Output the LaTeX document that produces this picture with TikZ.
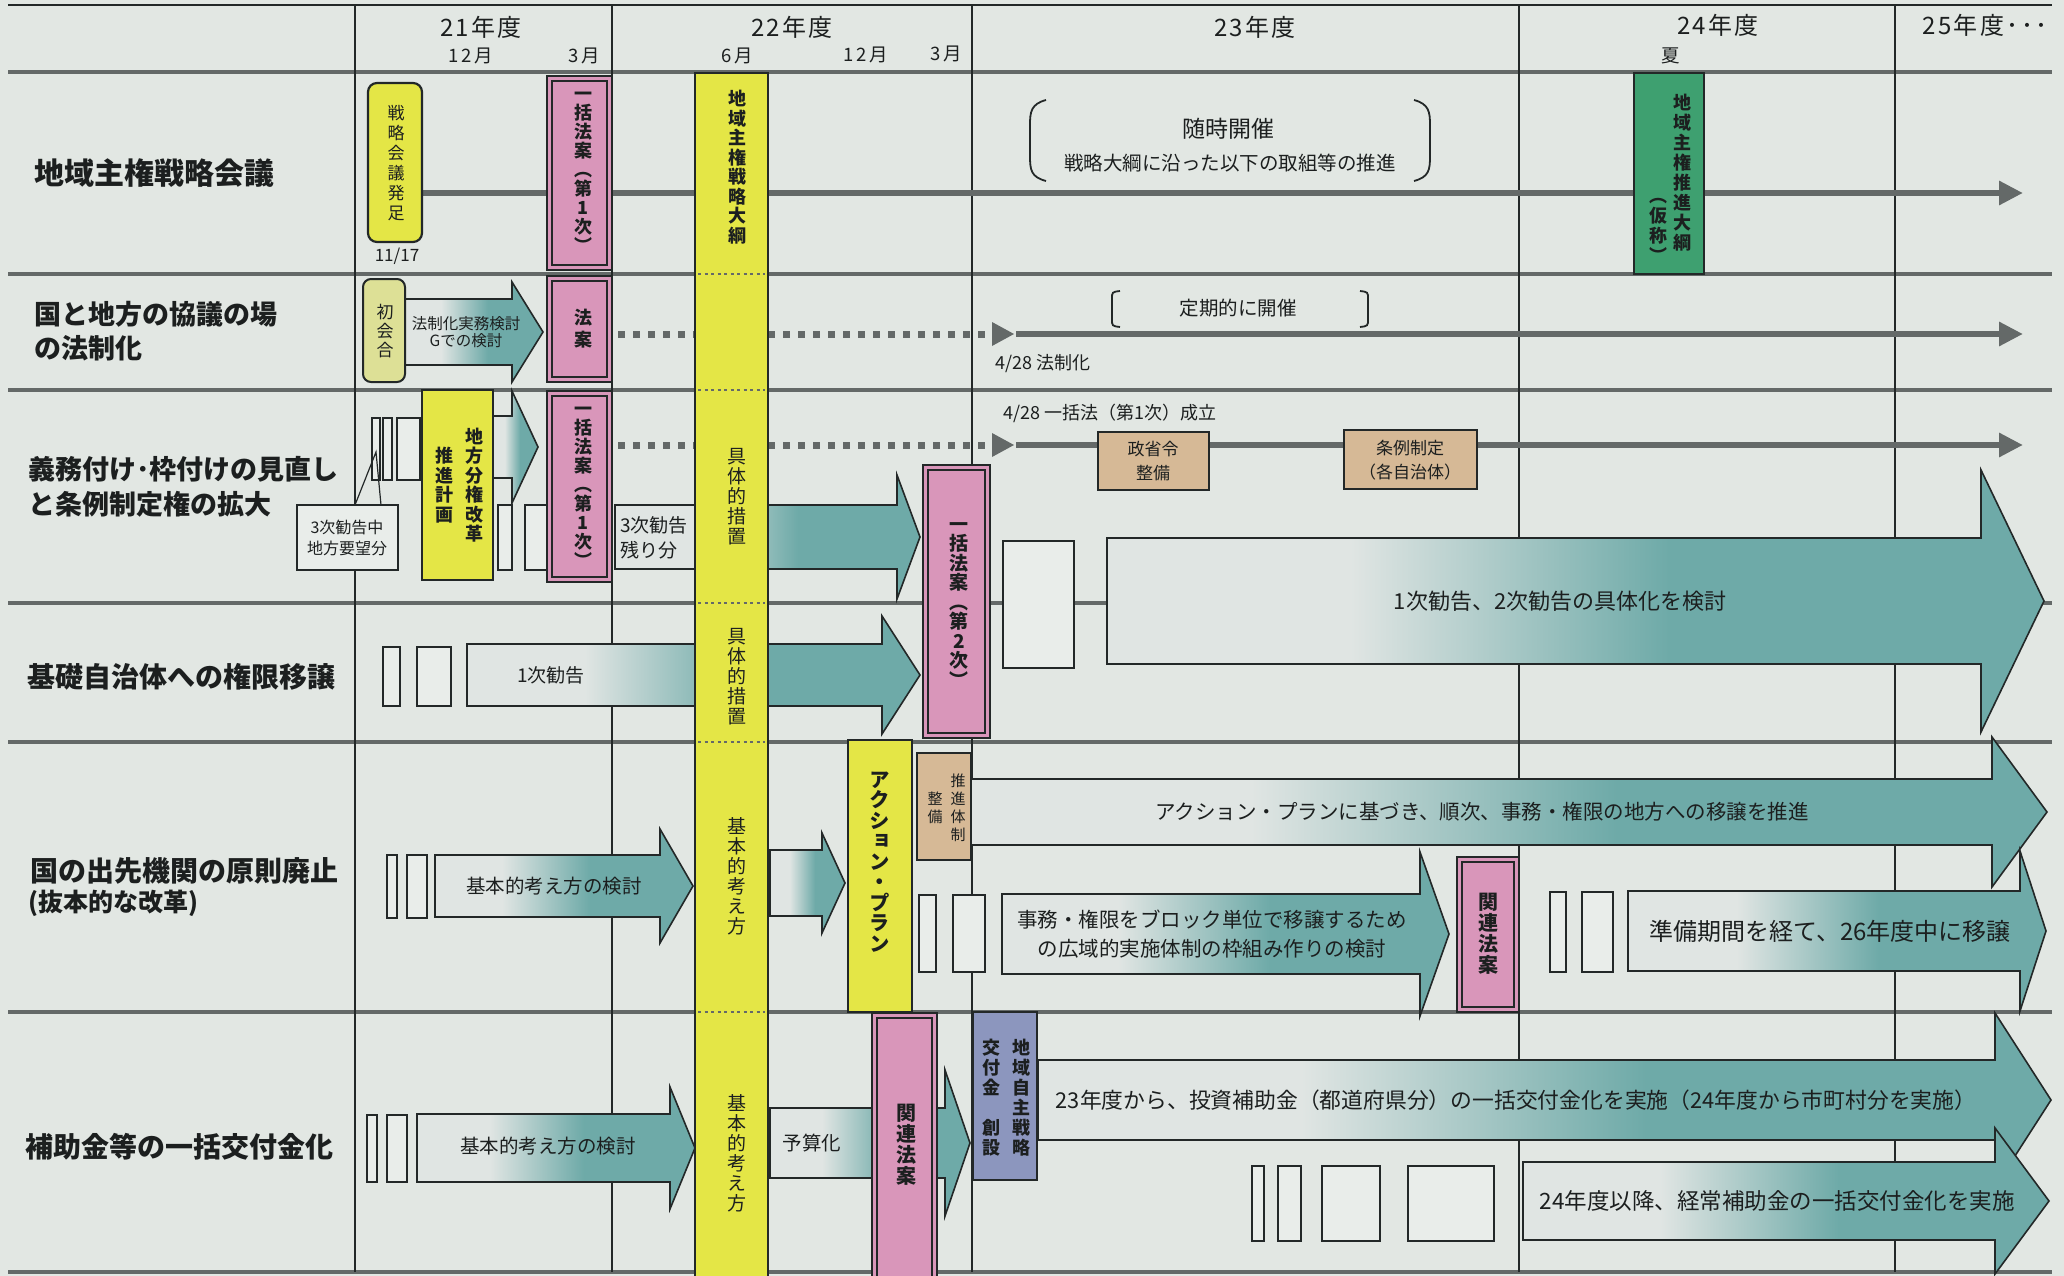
\documentclass[tikz,border=0pt]{standalone}
\usepackage{fontspec}
\setmainfont{Noto Sans CJK JP}
\newfontfamily\tatefont{Noto Sans CJK JP}[RawFeature=+vert]
\usetikzlibrary{arrows.meta}
\usetikzlibrary{calc}

\definecolor{paper}{RGB}{226,231,227}
\definecolor{boxpale}{RGB}{233,237,234}
\definecolor{inkline}{RGB}{35,40,40}
\definecolor{inktext}{RGB}{28,31,31}
\definecolor{rowgray}{RGB}{100,105,104}
\definecolor{barYellow}{RGB}{228,230,70}
\definecolor{paleYellow}{RGB}{221,224,150}
\definecolor{lawPink}{RGB}{217,150,186}
\definecolor{planGreen}{RGB}{62,160,112}
\definecolor{tanBox}{RGB}{214,185,150}
\definecolor{grantBlue}{RGB}{140,150,190}
\definecolor{fadePale}{RGB}{224,229,227}
\definecolor{fadeTeal}{RGB}{110,170,168}

\pgfdeclareverticalshading{tealfade}{100bp}{color(0bp)=(fadeTeal); color(45bp)=(fadeTeal); color(62bp)=(fadePale); color(100bp)=(fadePale)}

% block arrow: x start, x head base, x tip, y mid, half shaft, half head
\newcommand{\blockarrow}[6]{%
  \draw[arrowbody] (#1,{#4-#5}) -- (#2,{#4-#5}) -- (#2,{#4-#6}) -- (#3,#4)
    -- (#2,{#4+#6}) -- (#2,{#4+#5}) -- (#1,{#4+#5}) -- cycle;}
% double framed pink box
\newcommand{\lawbox}[4]{%
  \draw[draw=inkline,line width=1.4pt,fill=lawPink] (#1,#2) rectangle (#3,#4);
  \draw[draw=inkline,line width=2pt] ({#1+5},{#2+5}) rectangle ({#3-5},{#4-5});}

\tikzset{
  rowrule/.style={draw=rowgray,line width=4pt},
  colrule/.style={draw=inkline,line width=1.8pt},
  timeline/.style={draw=rowgray,line width=6pt,-{Triangle[length=24pt,width=23pt]}},
  dotline/.style={draw=rowgray,line width=7pt,dash pattern=on 7pt off 8pt},
  bardot/.style={draw=rowgray,line width=2.5pt,dash pattern=on 3pt off 3.5pt},
  arrowbody/.style={draw=inkline,line width=1.6pt,shade,shading=tealfade,shading angle=90},
  tickbox/.style={draw=inkline,line width=1.6pt,fill=boxpale},
  barbox/.style={draw=inkline,line width=2.2pt,fill=barYellow},
  txt/.style 2 args={font={\fontsize{#1}{#2}\selectfont\lineskiplimit=-50pt},inner sep=0pt,align=center},
  tate/.style 2 args={font={\tatefont\fontsize{#1}{#2}\selectfont\lineskiplimit=-50pt},inner sep=0pt,align=center},
  tateb/.style 2 args={font={\tatefont\bfseries\fontsize{#1}{#2}\selectfont\lineskiplimit=-50pt},inner sep=0pt,align=center},
  title/.style={font={\bfseries\fontsize{28}{34}\selectfont\lineskiplimit=-50pt},inner sep=0pt,align=left,anchor=west},
  head/.style={font={\fontsize{24}{24}\selectfont\addfontfeatures{LetterSpace=10}},inner sep=0pt},
  month/.style={font={\fontsize{18.5}{18.5}\selectfont\addfontfeatures{LetterSpace=14}},inner sep=0pt}
}

\begin{document}
\begin{tikzpicture}[x=1pt,y=-1pt,every node/.style={text=inktext}]
	\useasboundingbox (0,0) rectangle (2064,1276);
	\clip (0,0) rectangle (2064,1276);
	\fill[paper] (0,0) rectangle (2064,1276);
	%grid of rows and years
	\draw[inkline,line width=1.8pt] (8,5) -- (2052,5);
	\foreach \y in {72,274,390,603,742,1012,1272}
		\draw[rowrule] (8,\y) -- (2052,\y);
	\foreach \x in {355,612,972,1519,1895}
		\draw[colrule] (\x,5) -- (\x,1272);
	%header
	\node[head] (y21) at (481,27) {21年度};
	\node[month] (m12a) at (471,56) {12月};
	\node[month] (m3a) at (584,56) {3月};
	\node[head] (y22) at (792,27) {22年度};
	\node[month] (m6) at (737,56) {6月};
	\node[month] (m12b) at (866,55) {12月};
	\node[month] (m3b) at (946,54) {3月};
	\node[head] (y23) at (1255,27) {23年度};
	\node[head] (y24) at (1718,25) {24年度};
	\node[month] (natsu) at (1671,56) {夏};
	\node[head] (y25) at (1985,25) {25年度･･･};
	%row titles
	\node[title,font={\bfseries\fontsize{30}{34}\selectfont}] (t1) at (34,173) {地域主権戦略会議};
	\node[title,font={\bfseries\fontsize{27}{34}\selectfont\lineskiplimit=-50pt}] (t2) at (34,331) {国と地方の協議の場\\の法制化};
	\node[title,font={\bfseries\fontsize{27}{35}\selectfont\lineskiplimit=-50pt}] (t3) at (28,487) {義務付け･枠付けの見直し\\と条例制定権の拡大};
	\node[title] (t4) at (27,677) {基礎自治体への権限移譲};
	\node[title] (t5) at (30,871) {国の出先機関の原則廃止};
	\node[title,font={\bfseries\fontsize{25}{25}\selectfont}] (t5b) at (28,903) {(抜本的な改革)};
	\node[title] (t6) at (25,1147) {補助金等の一括交付金化};
	%time lines
	\draw[timeline] (422,193) -- (2023,193);
	\draw[dotline] (618,334) -- (990,334);
	\fill[rowgray] (992,322) -- (1014,334) -- (992,346) -- cycle;
	\draw[timeline] (1016,334) -- (2023,334);
	\draw[dotline] (618,445) -- (990,445);
	\fill[rowgray] (992,433) -- (1014,445) -- (992,457) -- cycle;
	\draw[timeline] (1016,445) -- (2023,445);
	%block arrows
	\blockarrow{405}{512}{543}{332}{33}{50}
	\blockarrow{493}{512}{538}{447}{31}{56}
	\blockarrow{615}{897}{920}{537}{32}{62}
	\blockarrow{1107}{1981}{2044}{601}{63}{131}
	\blockarrow{467}{882}{920}{675}{31}{59}
	\blockarrow{435}{660}{693}{886}{31}{57}
	\blockarrow{770}{822}{845}{883}{33}{50}
	\blockarrow{971}{1992}{2047}{812}{33}{75}
	\blockarrow{1002}{1420}{1449}{934}{40}{82}
	\blockarrow{1628}{2020}{2046}{931}{40}{80}
	\blockarrow{417}{670}{695}{1148}{34}{61}
	\blockarrow{770}{945}{970}{1143}{35}{73}
	\blockarrow{1038}{1995}{2051}{1100}{40}{87}
	\blockarrow{1523}{1995}{2049}{1201}{39}{73}
	%small empty boxes
	\foreach \a/\b/\c/\d in {372/418/380/480, 383/418/392/480, 397/418/420/480,
		498/505/512/570, 525/505/547/570, 1003/541/1074/668,
		383/647/400/706, 417/647/451/706, 387/855/397/918, 407/855/427/918,
		919/895/936/972, 953/895/985/972, 1550/892/1566/972, 1582/892/1613/972,
		367/1115/377/1182, 387/1115/407/1182, 1252/1166/1264/1241,
		1278/1166/1301/1241, 1322/1166/1380/1241, 1408/1166/1494/1241}
		\draw[tickbox] (\a,\b) rectangle (\c,\d);
	%callout
	\draw[tickbox] (297,505) rectangle (398,570);
	\draw[inkline,line width=1.2pt] (355,505) -- (376,452) -- (381,505);
	\node[txt={16}{21}] (youbou) at (347,538) {3次勧告中\\地方要望分};
	%boxes
	\draw[barbox,rounded corners=9pt] (368,83) rectangle (422,242);
	\draw[draw=inkline,line width=2pt,fill=paleYellow,rounded corners=8pt] (363,279) rectangle (405,382);
	\draw[barbox] (422,390) rectangle (493,580);
	\lawbox{547}{76}{612}{270}
	\lawbox{547}{276}{612}{382}
	\lawbox{547}{391}{612}{582}
	\lawbox{923}{465}{990}{738}
	\lawbox{1457}{857}{1519}{1012}
	\lawbox{872}{1013}{937}{1290}
	\draw[barbox] (695,73) rectangle (768,1290);
	\foreach \y in {274,390,603,742,1012}
		\draw[bardot] (698,\y) -- (765,\y);
	\draw[barbox] (848,740) rectangle (912,1012);
	\draw[draw=inkline,line width=2pt,fill=tanBox] (917,753) rectangle (971,860);
	\draw[draw=inkline,line width=2pt,fill=tanBox] (1098,432) rectangle (1209,490);
	\draw[draw=inkline,line width=2pt,fill=tanBox] (1344,430) rectangle (1477,489);
	\draw[draw=inkline,line width=2pt,fill=planGreen] (1634,73) rectangle (1704,274);
	\draw[draw=inkline,line width=2pt,fill=grantBlue] (973,1012) rectangle (1037,1180);
	%brackets
	\draw[inkline,line width=1.8pt] (1046,100) .. controls (1031,104) and (1030,112) .. (1030,125)
		-- (1030,156) .. controls (1030,170) and (1031,177) .. (1046,181);
	\draw[inkline,line width=1.8pt] (1414,100) .. controls (1429,104) and (1430,112) .. (1430,125)
		-- (1430,156) .. controls (1430,170) and (1429,177) .. (1414,181);
	\draw[inkline,line width=1.8pt] (1120,291) .. controls (1112,292) .. (1112,299)
		-- (1112,319) .. controls (1112,326) .. (1120,327);
	\draw[inkline,line width=1.8pt] (1360,291) .. controls (1368,292) .. (1368,299)
		-- (1368,319) .. controls (1368,326) .. (1360,327);
	%row 1 labels
	\node[tate={17}{20}] (hossoku) at (396,163) {戦\\略\\会\\議\\発\\足};
	\node[txt={17}{17}] (d1117) at (397,256) {11/17};
	\node[tateb={18}{19}] (ikkatsu1) at (583,172) {一\\括\\法\\案\\︵\\第\\1\\次\\︶};
	\node[tateb={18}{19.5}] (taiko) at (737,167) {地\\域\\主\\権\\戦\\略\\大\\綱};
	\node[txt={23}{23}] (zuiji) at (1228,129) {随時開催};
	\node[txt={19.5}{19.5}] (zuijisub) at (1230,163) {戦略大綱に沿った以下の取組等の推進};
	\node[tateb={18}{20}] (suishin) at (1682,173) {地\\域\\主\\権\\推\\進\\大\\綱};
	\node[tateb={18}{20}] (kasho) at (1658,230) {︵\\仮\\称\\︶};
	%row 2 labels
	\node[tate={17}{19}] (shokai) at (385,331) {初\\会\\合};
	\node[txt={15.5}{17.5}] (kento) at (466,332) {法制化実務検討\\Gでの検討};
	\node[tateb={18}{22}] (houan) at (583,329) {法\\案};
	\node[txt={18}{18},anchor=west] (houseika) at (995,364) {4/28 法制化};
	\node[txt={19.5}{19.5}] (teiki) at (1238,308) {定期的に開催};
	%row 3 labels
	\node[txt={18}{18},anchor=west] (seiritsu) at (1003,413) {4/28 一括法（第1次）成立};
	\node[txt={17}{24}] (seisho) at (1153,461) {政省令\\整備};
	\node[txt={17}{24}] (jorei) at (1410,460) {条例制定\\（各自治体）};
	\node[tateb={18}{19.5}] (kaikaku) at (474,485) {地\\方\\分\\権\\改\\革};
	\node[tateb={18}{19.5}] (keikaku) at (444,485) {推\\進\\計\\画};
	\node[tateb={18}{19}] (ikkatsu1b) at (583,487) {一\\括\\法\\案\\︵\\第\\1\\次\\︶};
	\node[txt={19}{25},align=left,anchor=west] (nokori) at (620,538) {3次勧告\\残り分};
	\node[tate={19}{20}] (gutai1) at (737,497) {具\\体\\的\\措\\置};
	\node[tateb={19}{19.5}] (ikkatsu2) at (959,605) {一\\括\\法\\案\\︵\\第\\2\\次\\︶};
	\node[txt={22}{22}] (gutaika) at (1560,601) {1次勧告、2次勧告の具体化を検討};
	%row 4 labels
	\node[txt={19}{19}] (kankoku1) at (551,675) {1次勧告};
	\node[tate={19}{20}] (gutai2) at (737,677) {具\\体\\的\\措\\置};
	%row 5 labels
	\node[txt={19.5}{19.5}] (kangae5) at (554,886) {基本的考え方の検討};
	\node[tate={19}{20}] (kihon5) at (737,876) {基\\本\\的\\考\\え\\方};
	\node[tateb={20.5}{20.5}] (action) at (880,862) {ア\\ク\\シ\\ョ\\ン\\・\\プ\\ラ\\ン};
	\node[tate={15}{18}] (taisei) at (958,808) {推\\進\\体\\制};
	\node[tate={15}{18}] (seibi) at (935,808) {整\\備};
	\node[txt={20.5}{20.5}] (ijou) at (1482,812) {アクション・プランに基づき、順次、事務・権限の地方への移譲を推進};
	\node[txt={20.5}{29}] (kouiki) at (1212,934) {事務・権限をブロック単位で移譲するため\\の広域的実施体制の枠組み作りの検討};
	\node[tateb={20}{21}] (kanren5) at (1488,934) {関\\連\\法\\案};
	\node[txt={24}{24}] (junbi) at (1830,931) {準備期間を経て、26年度中に移譲};
	%row 6 labels
	\node[txt={19.5}{19.5}] (kangae6) at (548,1146) {基本的考え方の検討};
	\node[tate={19}{20}] (kihon6) at (737,1153) {基\\本\\的\\考\\え\\方};
	\node[txt={19.5}{19.5}] (yosan) at (812,1143) {予算化};
	\node[tateb={20}{21}] (kanren6) at (906,1145) {関\\連\\法\\案};
	\node[tateb={18}{20}] (senryaku) at (1021,1098) {地\\域\\自\\主\\戦\\略};
	\node[tateb={18}{20}] (sousetsu) at (991,1098) {交\\付\\金\\\mbox{}\\創\\設};
	\node[txt={21.8}{21.8}] (toushi) at (1516,1100) {23年度から、投資補助金（都道府県分）の一括交付金化を実施（24年度から市町村分を実施）};
	\node[txt={22.5}{22.5}] (keijou) at (1777,1201) {24年度以降、経常補助金の一括交付金化を実施};
\end{tikzpicture}
\end{document}
